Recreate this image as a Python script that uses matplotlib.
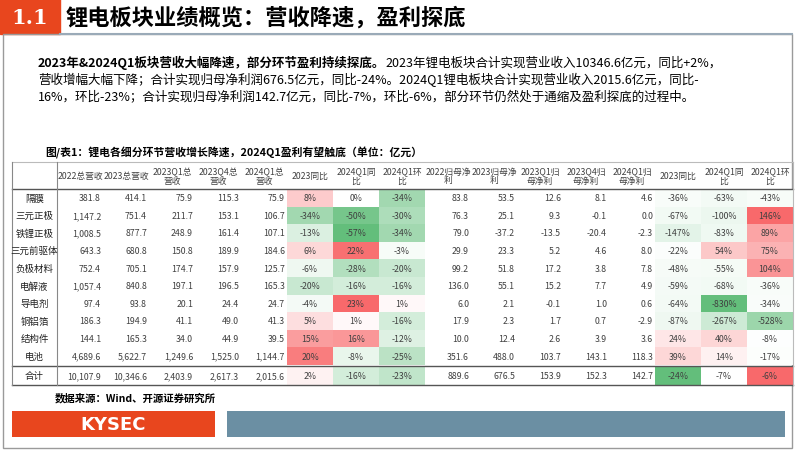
import matplotlib
matplotlib.use("Agg")
import matplotlib.pyplot as plt
from matplotlib.patches import Rectangle
import numpy as np

categories = ["隔膜", "三元正极", "铁锂正极", "三元前驱体", "负极材料", "电解液", "导电剂", "铜铝箔", "结构件", "电池"]
total_label = "合计"
headers = ["2022总营收", "2023总营收", "2023Q1总\n营收", "2023Q4总\n营收", "2024Q1总\n营收", "2023同比", "2024Q1同\n比", "2024Q1环\n比",
           "2022归母净\n利", "2023归母净\n利", "2023Q1归\n母净利", "2023Q4归\n母净利", "2024Q1归\n母净利", "2023同比", "2024Q1同\n比", "2024Q1环\n比"]
rev_2022 = [381.8, 1147.2, 1008.5, 643.3, 752.4, 1057.4, 97.4, 186.3, 144.1, 4689.6]
rev_2023 = [414.1, 751.4, 877.7, 680.8, 705.1, 840.8, 93.8, 194.9, 165.3, 5622.7]
rev_23q1 = [75.9, 211.7, 248.9, 150.8, 174.7, 197.1, 20.1, 41.1, 34.0, 1249.6]
rev_23q4 = [115.3, 153.1, 161.4, 189.9, 157.9, 196.5, 24.4, 49.0, 44.9, 1525.0]
rev_24q1 = [75.9, 106.7, 107.1, 184.6, 125.7, 165.3, 24.7, 41.3, 39.5, 1144.7]
rev_yoy23 = [8, -34, -13, 6, -6, -20, -4, 5, 15, 20]
rev_yoy24 = [0, -50, -57, 22, -28, -16, 23, 1, 16, -8]
rev_qoq24 = [-34, -30, -34, -3, -20, -16, 1, -16, -12, -25]
np_2022 = [83.8, 76.3, 79.0, 29.9, 99.2, 136.0, 6.0, 17.9, 10.0, 351.6]
np_2023 = [53.5, 25.1, -37.2, 23.3, 51.8, 55.1, 2.1, 2.3, 12.4, 488.0]
np_23q1 = [12.6, 9.3, -13.5, 5.2, 17.2, 15.2, -0.1, 1.7, 2.6, 103.7]
np_23q4 = [8.1, -0.1, -20.4, 4.6, 3.8, 7.7, 1.0, 0.7, 3.9, 143.1]
np_24q1 = [4.6, 0.0, -2.3, 8.0, 7.8, 4.9, 0.6, -2.9, 3.6, 118.3]
np_yoy23 = [-36, -67, -147, -22, -48, -59, -64, -87, 24, 39]
np_yoy24 = [-63, -100, -83, 54, -55, -68, -830, -267, 40, 14]
np_qoq24 = [-43, 146, 89, 75, 104, -36, -34, -528, -8, -17]
total_vals = [10107.9, 10346.6, 2403.9, 2617.3, 2015.6, 2, -16, -23, 889.6, 676.5, 153.9, 152.3, 142.7, -24, -7, -6]

cols = [rev_2022, rev_2023, rev_23q1, rev_23q4, rev_24q1, rev_yoy23, rev_yoy24, rev_qoq24,
        np_2022, np_2023, np_23q1, np_23q4, np_24q1, np_yoy23, np_yoy24, np_qoq24]
pct_idx = {5, 6, 7, 13, 14, 15}

FONT = "Noto Sans CJK SC"
plt.rcParams["font.family"] = FONT
fig = plt.figure(figsize=(8.02, 4.52), dpi=100)
ax = fig.add_axes([0, 0, 1, 1])
ax.set_xlim(0, 802); ax.set_ylim(452, 0); ax.axis("off")

RED = np.array([248, 105, 107]) / 255
GREEN = np.array([99, 190, 123]) / 255
WHITE = np.array([1.0, 1.0, 1.0])
def cscale(v, lo, mid, hi):
    if v >= mid:
        t = 0 if hi == mid else (v - mid) / (hi - mid)
        return WHITE + (RED - WHITE) * min(t, 1)
    t = (mid - v) / (mid - lo)
    return WHITE + (GREEN - WHITE) * min(t, 1)

# header
ax.add_patch(Rectangle((0, 0), 60, 35, color="#e8461e"))
ax.text(30, 18, "1.1", color="white", fontsize=15, fontweight="bold", family="DejaVu Serif", ha="center", va="center")
ax.text(66, 18, "锂电板块业绩概览：营收降速，盈利探底", fontsize=16, fontweight="bold", va="center")
ax.plot([60, 792], [35, 35], color="#9aaab8", lw=1.5)
ax.add_patch(Rectangle((3, 35), 789, 414, fill=False, ec="#9a9a9a", lw=1))

# body text
bold = "2023年&2024Q1板块营收大幅降速，部分环节盈利持续探底。"
lines = ["2023年锂电板块合计实现营业收入10346.6亿元，同比+2%，",
         "营收增幅大幅下降；合计实现归母净利润676.5亿元，同比-24%。2024Q1锂电板块合计实现营业收入2015.6亿元，同比-",
         "16%，环比-23%；合计实现归母净利润142.7亿元，同比-7%，环比-6%，部分环节仍然处于通缩及盈利探底的过程中。"]
fs = 9.0
t = ax.text(38, 63, bold, fontsize=fs, fontweight="bold", va="center")
fig.canvas.draw()
bb = t.get_window_extent()
ax.text(38 + bb.width, 63, lines[0], fontsize=fs, va="center")
ax.text(38, 80, lines[1], fontsize=fs, va="center")
ax.text(38, 97, lines[2], fontsize=fs, va="center")
ax.text(45, 153, "图/表1：锂电各细分环节营收增长降速，2024Q1盈利有望触底（单位：亿元）", fontsize=7.8, fontweight="bold", va="center")

# table
x0, xl, cw = 12, 57, 46
ytop, yhb, rh = 163, 190, 17.6
nfs = 6.3
tc = "#404040"
for j, h in enumerate(headers):
    cx = xl + cw * j + cw / 2
    ax.text(cx, (ytop + yhb) / 2, h, fontsize=nfs, ha="center", va="center", color=tc, linespacing=1.0)

def fmt(v, j):
    return f"{v:.0f}%" if j in pct_idx else f"{v:,.1f}"

groups = [(5, 8), (13, 16)]
def grange(a, b):
    vals = [v for k in range(a, b) for v in cols[k]]
    return min(vals), max(vals)
for i, cat in enumerate(categories):
    y = yhb + rh * i
    cy = y + rh / 2
    ax.text((x0 + xl) / 2, cy, cat, fontsize=6.8, ha="center", va="center", color="#222222")
    for j, col in enumerate(cols):
        v = col[i]
        if j in pct_idx:
            a, b = groups[0] if j < 8 else groups[1]
            lo, hi = grange(a, b)
            ax.add_patch(Rectangle((xl + cw * j, y), cw, rh, color=cscale(v, lo, 0, hi), lw=0))
            ax.text(xl + cw * j + cw / 2, cy, fmt(v, j), fontsize=nfs, ha="center", va="center", color=tc)
        else:
            ax.text(xl + cw * (j + 1) - 2, cy, fmt(v, j), fontsize=nfs, ha="right", va="center", color=tc)

ytot = yhb + rh * len(categories) + 1.5
th = 18
lo, hi = grange(5, 8)
for j, v in enumerate(total_vals):
    cy = ytot + th / 2
    if j in pct_idx:
        c = cscale(v, lo, 0, hi) if j < 8 else cscale(v, -24, -7, -6)
        ax.add_patch(Rectangle((xl + cw * j, ytot), cw, th, color=c, lw=0))
        ax.text(xl + cw * j + cw / 2, cy, fmt(v, j), fontsize=nfs, ha="center", va="center", color=tc)
    else:
        ax.text(xl + cw * (j + 1) - 2, cy, fmt(v, j), fontsize=nfs, ha="right", va="center", color=tc)
ax.text((x0 + xl) / 2, ytot + th / 2, total_label, fontsize=6.8, ha="center", va="center", color="#222222")

xr = xl + cw * 16
ax.plot([x0, xr], [ytop, ytop], color="#bbbbbb", lw=0.8)
ax.plot([x0, xr], [yhb, yhb], color="#555555", lw=1.0)
ax.plot([x0, xr], [ytot - 0.8, ytot - 0.8], color="#555555", lw=1.0)
ax.plot([x0, xr], [ytot + th, ytot + th], color="#555555", lw=1.0)
ax.plot([x0, x0], [ytop, ytot + th], color="#888888", lw=0.8)
ax.plot([xr, xr], [ytop, ytot + th], color="#bbbbbb", lw=0.8)
ax.plot([xl, xl], [ytop, ytot + th], color="#888888", lw=0.8)

ax.text(55, 398, "数据来源：Wind、开源证券研究所", fontsize=7.5, fontweight="bold", va="center")
ax.add_patch(Rectangle((12, 412), 203, 26, color="#e8461e", lw=0))
ax.text(113, 425, "KYSEC", color="white", fontsize=13, fontweight="bold", family="DejaVu Sans", ha="center", va="center")
ax.add_patch(Rectangle((227, 412), 558, 26, color="#6b8fa3", lw=0))

fig.savefig("out.png", dpi=100)
